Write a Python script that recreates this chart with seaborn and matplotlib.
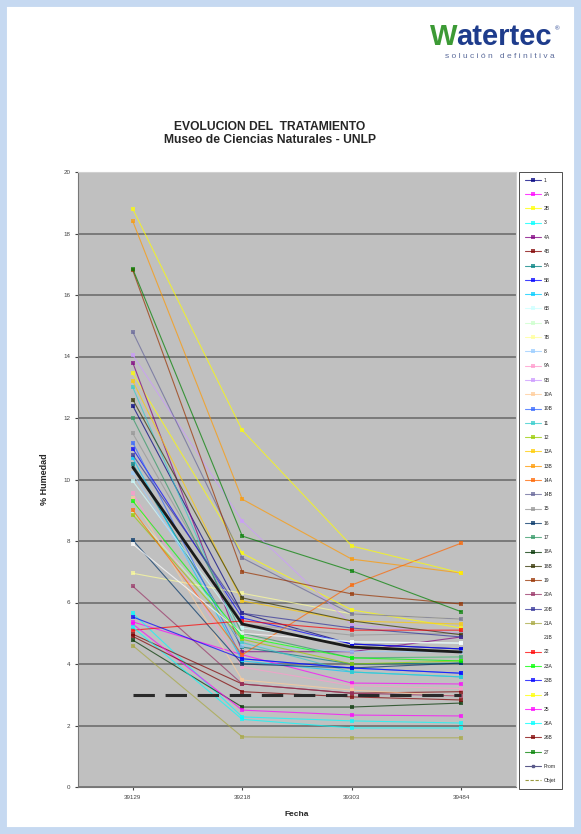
import numpy as np
import pandas as pd
import matplotlib.pyplot as plt
import seaborn as sns
from matplotlib.lines import Line2D
from matplotlib.patches import Rectangle

# ── data ────────────────────────────────────────────────────
fechas = ["39129", "39218", "39303", "39484"]

muestras = ["1", "2A", "2B", "3", "4A", "4B", "5A", "5B", "6A", "6B",
            "7A", "7B", "8", "9A", "9B", "10A", "10B", "11", "12", "13A",
            "13B", "14A", "14B", "15", "16", "17", "18A", "18B", "19", "20A",
            "20B", "21A", "21B", "22", "23A", "23B", "24", "25", "26A", "26B",
            "27"]

# % humedad per muestra, one list per fecha (same order as muestras)
h_39129 = [12.4, 5.37, 13.45, 5.65, 13.8, 4.97, 10.5, 11.0, 10.7, 9.95,
           8.95, 6.95, 10.2, 9.55, 14.05, 9.4, 11.2, 13.0, 8.85, 13.2,
           18.4, 9.0, 14.8, 11.5, 8.03, 12.0, 4.78, 12.6, 16.8, 6.53,
           10.8, 4.6, 7.9, 5.1, 9.3, 5.53, 18.8, 5.3, 5.2, 4.9,
           16.85]
h_39218 = [5.65, 4.3, 7.6, 2.28, 4.4, 3.35, 4.55, 5.5, 4.1, 5.17,
           4.9, 6.3, 4.6, 3.9, 8.65, 3.48, 4.17, 4.7, 4.8, 6.05,
           9.36, 4.3, 7.45, 5.3, 4.0, 5.0, 2.6, 6.15, 7.0, 3.35,
           5.65, 1.63, 5.0, 5.4, 4.88, 4.17, 11.6, 2.5, 2.2, 3.1,
           8.16]
h_39303 = [4.65, 3.38, 5.76, 2.15, 4.4, 3.05, 4.0, 4.65, 3.74, 4.72,
           4.2, 5.63, 4.4, 3.3, 5.27, 3.15, 3.87, 3.74, 4.0, 5.4,
           7.41, 6.57, 5.63, 4.94, 3.87, 4.2, 2.6, 5.4, 6.28, 3.05,
           5.17, 1.6, 4.72, 5.1, 4.2, 3.87, 7.84, 2.34, 1.92, 2.93,
           7.03]
h_39484 = [4.49, 3.35, 5.17, 2.08, 4.88, 3.1, 4.03, 4.49, 3.58, 4.68,
           4.23, 5.46, 4.4, 3.2, 5.0, 2.96, 3.7, 3.58, 4.1, 5.3,
           6.96, 7.93, 5.46, 5.0, 4.03, 4.23, 2.73, 4.95, 5.95, 2.96,
           4.88, 1.6, 4.68, 5.1, 4.1, 3.7, 6.96, 2.31, 1.92, 2.83,
           5.7]

prom = [10.4, 5.3, 4.55, 4.39]
objet = [3.0, 3.0, 3.0, 3.0]

# excel-like series colours
colores = ["#000080", "#FF00FF", "#FFFF00", "#00FFFF", "#800080", "#800000",
           "#008080", "#0000FF", "#00CCFF", "#CCFFFF", "#CCFFCC", "#FFFF99",
           "#99CCFF", "#FF99CC", "#CC99FF", "#FFCC99", "#3366FF", "#33CCCC",
           "#99CC00", "#FFCC00", "#FF9900", "#FF6600", "#666699", "#969696",
           "#003366", "#339966", "#003300", "#333300", "#993300", "#993366",
           "#333399", "#A8A840", "#FFFFFF", "#FF0000", "#00FF00", "#0000FF",
           "#FFFF00", "#FF00FF", "#00FFFF", "#800000", "#008000"]
palette = dict(zip(muestras, colores))

df = pd.DataFrame({
    "muestra": np.repeat(muestras, len(fechas)),
    "fecha": np.tile(fechas, len(muestras)),
    "humedad": np.column_stack([h_39129, h_39218, h_39303, h_39484]).ravel(),
})
df_prom = pd.DataFrame({"fecha": fechas, "humedad": prom})
df_obj = pd.DataFrame({"fecha": fechas, "humedad": objet})

# ── plot ────────────────────────────────────────────────────
sns.set_style("white")
plt.rcParams["font.family"] = ["Liberation Sans", "DejaVu Sans"]

fig = plt.figure(figsize=(5.81, 8.34), dpi=100)
ax = fig.add_axes([78 / 581, 1 - 787 / 834, 438 / 581, 615 / 834])
ax.set_facecolor("#C0C0C0")

sns.lineplot(data=df, x="fecha", y="humedad", hue="muestra",
             hue_order=muestras, palette=palette, marker="s",
             markersize=3, markeredgewidth=0, linewidth=0.8, alpha=0.7,
             legend=False, ax=ax)
sns.lineplot(data=df_prom, x="fecha", y="humedad", color="#1a1a1a",
             linewidth=2.0, ax=ax)
sns.lineplot(data=df_obj, x="fecha", y="humedad", color="#2a2a2a",
             linewidth=2.2, dashes=False, ax=ax)
ax.lines[-1].set_dashes([7, 3.5])

ax.set_xlim(-0.5, 3.5)
ax.set_ylim(0, 20)
ax.set_yticks(range(0, 21, 2))
ax.yaxis.grid(True, color="#6e6e6e", linewidth=1.2)
ax.set_axisbelow(True)
for s in ["top", "right"]:
    ax.spines[s].set_color("#d0d0d0")
for s in ["left", "bottom"]:
    ax.spines[s].set_color("#777777")
ax.tick_params(axis="both", labelsize=4.5, colors="#444444", length=2,
               direction="out", bottom=True, left=True)
ax.set_xlabel("Fecha", fontsize=6, fontweight="bold", labelpad=8)
ax.set_ylabel("% Humedad", fontsize=6.5, fontweight="bold", labelpad=10)

# legend
handles = [Line2D([0], [0], color=palette[m], marker="s", markersize=2.5,
                  markeredgewidth=0, linewidth=0.8, alpha=0.75)
           for m in muestras]
handles.append(Line2D([0], [0], color="#5a5a8a", marker="s", markersize=2,
                      linewidth=0.8))
handles.append(Line2D([0], [0], color="#9a9a40", linewidth=0.8,
                      dashes=[3, 1.5]))
labels = muestras + ["Prom", "Objet"]
leg = fig.legend(handles, labels, loc="upper left",
                 bbox_to_anchor=(519 / 581, 1 - 172 / 834),
                 fontsize=3.6, frameon=True, fancybox=False,
                 edgecolor="#333333", framealpha=1, borderpad=1.1,
                 labelspacing=1.86, handlelength=3.2, handletextpad=0.7,
                 borderaxespad=0)
leg.get_frame().set_linewidth(0.6)

# titles
fig.text(270 / 581, 1 - 127 / 834, "EVOLUCION DEL  TRATAMIENTO",
         ha="center", va="center", fontsize=8.7, fontweight="bold")
fig.text(270 / 581, 1 - 140 / 834, "Museo de Ciencias Naturales - UNLP",
         ha="center", va="center", fontsize=8.7, fontweight="bold")

# logo
fig.text(430 / 581, 1 - 37 / 834, "W", ha="left", va="center",
         fontsize=21, fontweight="bold", color="#3C9A35")
fig.text(456 / 581, 1 - 37 / 834, "atertec", ha="left", va="center",
         fontsize=21, fontweight="bold", color="#1E3C8C")
fig.text(555 / 581, 1 - 29 / 834, "®", ha="left", va="center",
         fontsize=4.5, color="#1E3C8C")
fig.text(500 / 581, 1 - 57 / 834, "s o l u c i ó n   d e f i n i t i v a",
         ha="center", va="center", fontsize=6, color="#5a6a9a")

# page frame
fig.patches.append(Rectangle((0, 0), 1, 1, transform=fig.transFigure,
                             fill=False, edgecolor="#C6D9F1", linewidth=10))

fig.savefig("out.png", dpi=100)
